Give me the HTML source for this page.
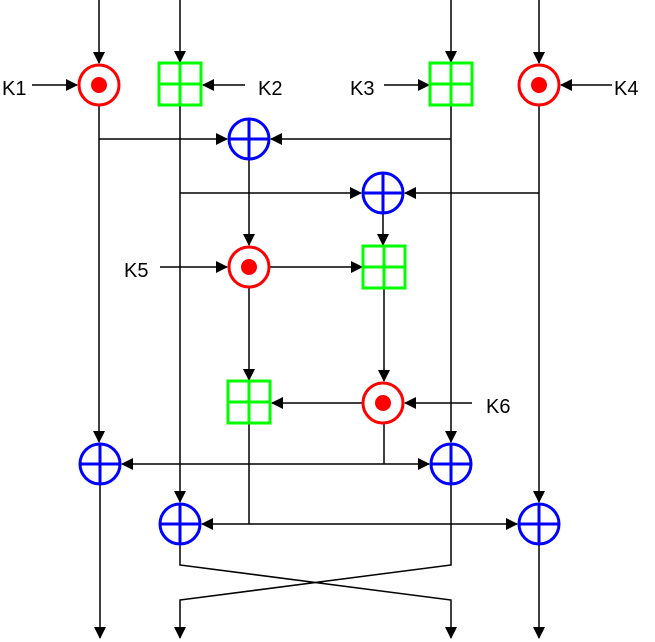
<!DOCTYPE html>
<html><head><meta charset="utf-8"><style>
html,body{margin:0;padding:0;background:#fff;width:655px;height:642px;overflow:hidden}
text{font-family:"Liberation Sans",sans-serif;font-size:20px;fill:#000}
</style></head><body>
<svg width="655" height="642" viewBox="0 0 655 642" xmlns="http://www.w3.org/2000/svg">
<defs>
<marker id="a" markerWidth="12" markerHeight="12" refX="11" refY="6" orient="auto" markerUnits="userSpaceOnUse">
<path d="M0,0 L12,6 L0,12 z" fill="#000"/></marker>
<marker id="s" markerWidth="12" markerHeight="12" refX="1" refY="6" orient="auto" markerUnits="userSpaceOnUse">
<path d="M12,0 L0,6 L12,12 z" fill="#000"/></marker>
</defs>
<g stroke="#000" stroke-width="1.5" fill="none">
<!-- top inputs -->
<line x1="99" y1="0" x2="99" y2="63" marker-end="url(#a)"/>
<line x1="180" y1="0" x2="180" y2="62" marker-end="url(#a)"/>
<line x1="451" y1="0" x2="451" y2="62" marker-end="url(#a)"/>
<line x1="539" y1="0" x2="539" y2="63" marker-end="url(#a)"/>
<!-- key arrows -->
<line x1="32" y1="85" x2="77" y2="85" marker-end="url(#a)"/>
<line x1="245" y1="85" x2="203" y2="85" marker-end="url(#a)"/>
<line x1="384" y1="85" x2="429" y2="85" marker-end="url(#a)"/>
<line x1="612" y1="85" x2="561" y2="85" marker-end="url(#a)"/>
<!-- verticals -->
<line x1="99" y1="106" x2="99" y2="442" marker-end="url(#a)"/>
<line x1="180" y1="106" x2="180" y2="502" marker-end="url(#a)"/>
<line x1="451" y1="106" x2="451" y2="442" marker-end="url(#a)"/>
<line x1="539" y1="106" x2="539" y2="502" marker-end="url(#a)"/>
<!-- to XOR1 -->
<line x1="99" y1="139" x2="227" y2="139" marker-end="url(#a)"/>
<line x1="451" y1="139" x2="271" y2="139" marker-end="url(#a)"/>
<!-- to XOR2 -->
<line x1="180" y1="193" x2="361" y2="193" marker-end="url(#a)"/>
<line x1="539" y1="193" x2="405" y2="193" marker-end="url(#a)"/>
<line x1="249" y1="160" x2="249" y2="245" marker-end="url(#a)"/>
<line x1="383" y1="214" x2="383" y2="245" marker-end="url(#a)"/>
<line x1="160" y1="267" x2="227" y2="267" marker-end="url(#a)"/>
<line x1="270" y1="267" x2="362" y2="267" marker-end="url(#a)"/>
<line x1="249" y1="288" x2="249" y2="380" marker-end="url(#a)"/>
<line x1="384" y1="288" x2="384" y2="381" marker-end="url(#a)"/>
<line x1="362" y1="403" x2="272" y2="403" marker-end="url(#a)"/>
<line x1="472" y1="403" x2="405" y2="403" marker-end="url(#a)"/>
<!-- mid distribution -->
<line x1="384" y1="424" x2="384" y2="464"/>
<line x1="122" y1="464" x2="429" y2="464" marker-start="url(#s)" marker-end="url(#a)"/>
<line x1="249" y1="423" x2="249" y2="524"/>
<line x1="202" y1="524" x2="517" y2="524" marker-start="url(#s)" marker-end="url(#a)"/>
<!-- outputs -->
<line x1="100" y1="485" x2="100" y2="638" marker-end="url(#a)"/>
<line x1="539" y1="545" x2="539" y2="638" marker-end="url(#a)"/>
<polyline points="180,545 180,565 451,600 451,638" marker-end="url(#a)"/>
<polyline points="451,485 451,565 180,600 180,638" marker-end="url(#a)"/>
</g>
<!-- multiply -->
<g stroke="#f00" stroke-width="3" fill="#fff">
<circle cx="99" cy="85" r="20"/><circle cx="539" cy="85" r="20"/>
<circle cx="249" cy="267" r="20"/><circle cx="383" cy="403" r="20"/>
</g>
<g fill="#f00">
<circle cx="99" cy="85" r="8"/><circle cx="539" cy="85" r="8"/>
<circle cx="249" cy="267" r="8"/><circle cx="383" cy="403" r="8"/>
</g>
<!-- add boxes -->
<g stroke="#0f0" stroke-width="3" fill="#fff">
<rect x="159" y="63" width="42" height="42"/><path d="M180,63V105M159,84H201"/>
<rect x="430" y="63" width="42" height="42"/><path d="M451,63V105M430,84H472"/>
<rect x="363" y="246" width="42" height="42"/><path d="M384,246V288M363,267H405"/>
<rect x="228" y="381" width="42" height="42"/><path d="M249,381V423M228,402H270"/>
</g>
<!-- xor -->
<g stroke="#00f" stroke-width="3" fill="#fff">
<circle cx="249" cy="139" r="20"/><path d="M249,119V159M229,139H269"/>
<circle cx="383" cy="193" r="20"/><path d="M383,173V213M363,193H403"/>
<circle cx="100" cy="464" r="20"/><path d="M100,444V484M80,464H120"/>
<circle cx="451" cy="464" r="20"/><path d="M451,444V484M431,464H471"/>
<circle cx="180" cy="524" r="20"/><path d="M180,504V544M160,524H200"/>
<circle cx="539" cy="524" r="20"/><path d="M539,504V544M519,524H559"/>
</g>
<text x="2" y="95">K1</text>
<text x="258" y="95">K2</text>
<text x="350" y="95">K3</text>
<text x="614" y="95">K4</text>
<text x="124" y="277">K5</text>
<text x="486" y="413">K6</text>
</svg>
</body></html>
